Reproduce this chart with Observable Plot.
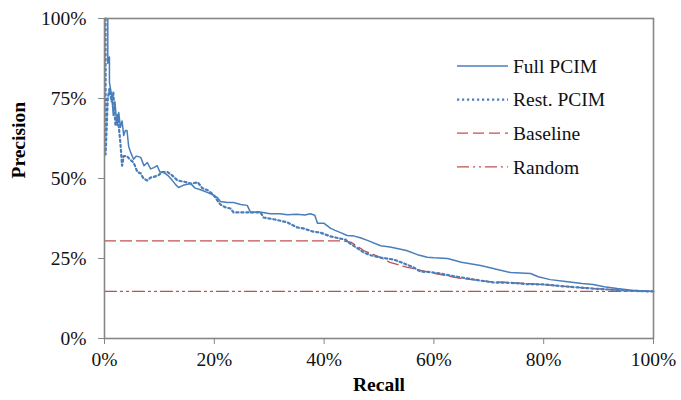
<!DOCTYPE html>
<html>
<head>
<meta charset="utf-8">
<script src="https://cdn.jsdelivr.net/npm/d3@7"></script>
<script src="https://cdn.jsdelivr.net/npm/@observablehq/plot@0.6"></script>
<style>
  html, body { margin: 0; padding: 0; background: #fff; }
  #wrap { position: relative; width: 681px; height: 400px; font-family: "Liberation Serif", serif; }
  #legend { position: absolute; left: 450px; top: 50px; }
</style>
</head>
<body>
<div id="wrap"></div>
<script>
// Full PCIM: [recall %, precision %]
const fullRecall = [0.6,0.6,0.9,0.9,1.1,1.3,1.5,1.6,1.9,2.1,2.3,2.6,2.9,3.2,3.5,3.8,4.1,4.4,4.8,5.3,5.8,6.6,7.2,7.8,8.4,9.0,9.6,10.1,10.7,11.5,12.3,13.0,13.5,14.5,15.7,16.5,17.5,18.8,19.6,20.6,21.1,22.4,23.5,24.8,26.0,26.6,28.0,30.2,31.5,32.0,33.3,35.0,36.5,37.5,38.3,38.8,40.0,41.2,42.0,43.0,44.2,45.5,46.6,48.0,50.3,52.0,53.3,55.0,57.0,58.8,60.0,62.5,65.0,68.5,71.0,74.0,77.6,79.0,81.2,84.0,87.0,89.0,91.0,93.4,96.0,100];
const fullPrecision = [100,86,88,80,78,76,72,69.7,74,70,66.6,70.6,66,68,63.4,65,65,60,58,56,57,56.6,54,55,53,53.4,54,52,52,51,49.5,48,47.2,48,48.4,47,46.5,45.6,45,44,42.8,42.5,42.5,41.9,41.6,39.4,39.6,39,39,39,38.7,38.8,38.6,39,38.5,36,36,34.4,33.8,33.1,32.2,32,31.5,30.6,29,28.6,28.1,27.5,26.2,25.4,25.2,25,23.8,22.8,21.8,20.6,20.3,19.3,18.4,17.8,17.2,16.9,16.2,15.6,15.1,14.7];

// Rest. PCIM
const restRecall = [0.2,0.2,0.4,0.6,0.9,1.3,1.6,2.0,2.4,2.9,3.2,3.5,4.1,4.6,5.3,6.0,6.6,7.1,7.8,8.4,9.0,9.8,10.5,11.5,12.3,13.3,14.5,15.7,17.0,17.8,18.8,19.8,20.6,21.1,22.0,23.0,23.5,25.0,28.4,29.0,31.0,33.3,35.1,36.2,38.0,39.3,41.2,43.0,43.9,44.8,46.0,47.2,48.5,50.3,52.6,54.5,56.3,57.6,59.0,61.2,63.5,66.0,68.5,70.9,74.0,77.0,80.0,83.0,86.0,89.0,92.0,95.0,97.5,100];
const restPrecision = [100,57.5,66,75,78,74,77,66.5,70,61,54,57,57,56,55,52,51.6,50,49.4,50.3,50.5,51,52,52,51,49.4,49,48.4,48.8,47,46.3,45,43,41.9,41,40.6,39.4,39.4,39.4,37.8,37.2,36.3,34.7,34.4,33.4,33.1,31.9,31.2,30.9,29.6,28.3,26.9,26,25.3,24.7,23.5,22.2,20.9,20.8,20.3,19.5,18.8,18.1,17.5,17.4,17,16.9,16.4,16,15.6,15.3,15,14.8,14.7];

// Baseline
const baseRecall = [0,43.5,45,47.2,50,52,55,57.6,60,64.8,70,77,83,89,95,100];
const basePrecision = [30.5,30.5,30,27.5,25.5,23.8,22.3,21.3,20.4,18.8,17.8,17.2,16.4,15.6,15,14.7];

// Random
const randRecall = [0,100];
const randPrecision = [14.7,14.7];

const xTicks = [0,20,40,60,80,100];
const yTicks = [0,25,50,75,100];
const seriesNames = ["Full PCIM","Rest. PCIM","Baseline","Random"];

const blue = "#4A7EBB", red = "#C0504D", gray = "#868686";
const styles = [
  {stroke: blue, strokeWidth: 1.5, strokeDasharray: null},
  {stroke: blue, strokeWidth: 2.2, strokeDasharray: "2.2,2.8"},
  {stroke: red, strokeWidth: 1.3, strokeDasharray: "11,5"},
  {stroke: red, strokeWidth: 1.3, strokeDasharray: "12,4,2,4,2,4"}
];

const toRows = (xs, ys) => xs.map((x, i) => ({x, y: ys[i]}));
const full = toRows(fullRecall, fullPrecision);
const rest = toRows(restRecall, restPrecision);
const base = toRows(baseRecall, basePrecision);
const rand = toRows(randRecall, randPrecision);

const font = "Liberation Serif";
const chart = Plot.plot({
  width: 681,
  height: 400,
  marginLeft: 104,
  marginRight: 28,
  marginTop: 18,
  marginBottom: 62,
  style: {fontFamily: font, fontSize: "19.5px", color: "#000", background: "#fff"},
  x: {domain: [0, 100]},
  y: {domain: [0, 100]},
  marks: [
    Plot.axisX({ticks: xTicks, tickFormat: d => d + "%", tickSize: 6, tickPadding: 8, stroke: gray, fill: "#111", label: null, fontSize: 19.5}),
    Plot.axisY({ticks: yTicks, tickFormat: d => d + "%", tickSize: 6, tickPadding: 12, stroke: gray, fill: "#111", label: null, fontSize: 19.5}),
    Plot.lineY(rand, {x: "x", y: "y", ...styles[3]}),
    Plot.lineY(base, {x: "x", y: "y", ...styles[2]}),
    Plot.lineY(rest, {x: "x", y: "y", ...styles[1]}),
    Plot.lineY(full, {x: "x", y: "y", ...styles[0]}),
    Plot.frame({stroke: gray, strokeWidth: 1.6}),
    Plot.text(["Recall"], {frameAnchor: "bottom", dy: 52, fontWeight: "bold", fontSize: 19.5, fill: "#000"}),
    Plot.text(["Precision"], {frameAnchor: "left", dx: -86, rotate: -90, fontWeight: "bold", fontSize: 19.5, fill: "#000"})
  ]
});
document.getElementById("wrap").appendChild(chart);

// Legend overlay
const ns = "http://www.w3.org/2000/svg";
const leg = document.createElementNS(ns, "svg");
leg.setAttribute("id", "legend");
leg.setAttribute("width", 180);
leg.setAttribute("height", 135);
seriesNames.forEach((name, i) => {
  const cy = 16 + i * 33.6;
  const ln = document.createElementNS(ns, "line");
  ln.setAttribute("x1", 7); ln.setAttribute("x2", 58);
  ln.setAttribute("y1", cy); ln.setAttribute("y2", cy);
  ln.setAttribute("stroke", styles[i].stroke);
  ln.setAttribute("stroke-width", styles[i].strokeWidth);
  if (styles[i].strokeDasharray) ln.setAttribute("stroke-dasharray", styles[i].strokeDasharray);
  leg.appendChild(ln);
  const t = document.createElementNS(ns, "text");
  t.setAttribute("x", 63); t.setAttribute("y", cy);
  t.setAttribute("dy", "0.35em");
  t.setAttribute("font-family", font);
  t.setAttribute("font-size", 19.5);
  t.setAttribute("fill", "#111");
  t.textContent = name;
  leg.appendChild(t);
});
document.getElementById("wrap").appendChild(leg);
</script>
</body>
</html>
